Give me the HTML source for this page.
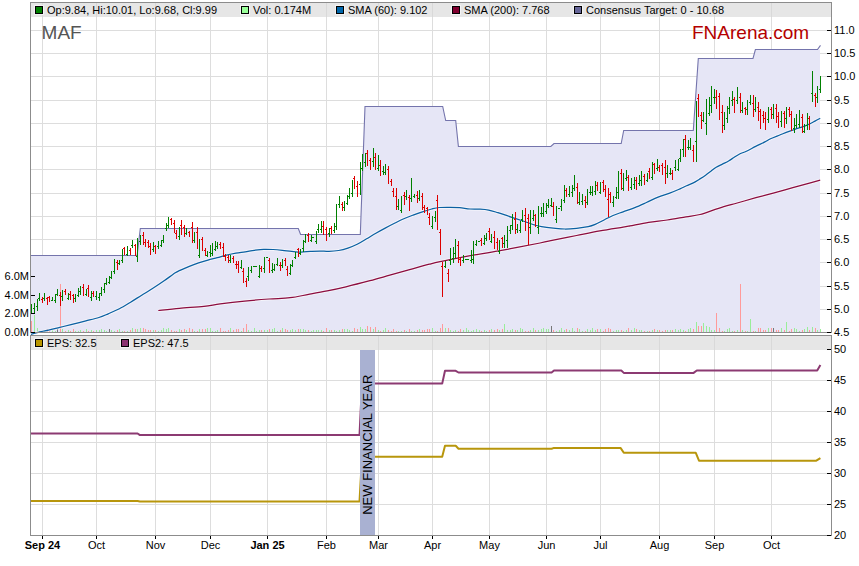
<!DOCTYPE html>
<html><head><meta charset="utf-8"><title>MAF</title><style>
html,body{margin:0;padding:0;background:#fff;overflow:hidden}
svg{display:block}
text{font-family:"Liberation Sans",Arial,sans-serif;font-size:11px;fill:#000}
</style></head><body>
<svg width="859" height="566" viewBox="0 0 859 566">
<rect x="0" y="0" width="859" height="566" fill="#fff"/>
<g fill="#dddddd" shape-rendering="crispEdges">
<rect x="42" y="3" width="1" height="329"/>
<rect x="96" y="3" width="1" height="329"/>
<rect x="155" y="3" width="1" height="329"/>
<rect x="210" y="3" width="1" height="329"/>
<rect x="267" y="3" width="1" height="329"/>
<rect x="326" y="3" width="1" height="329"/>
<rect x="378" y="3" width="1" height="329"/>
<rect x="432" y="3" width="1" height="329"/>
<rect x="489" y="3" width="1" height="329"/>
<rect x="546" y="3" width="1" height="329"/>
<rect x="600" y="3" width="1" height="329"/>
<rect x="659" y="3" width="1" height="329"/>
<rect x="714" y="3" width="1" height="329"/>
<rect x="771" y="3" width="1" height="329"/>
<rect x="31" y="309" width="800" height="1"/>
<rect x="31" y="286" width="800" height="1"/>
<rect x="31" y="262" width="800" height="1"/>
<rect x="31" y="239" width="800" height="1"/>
<rect x="31" y="216" width="800" height="1"/>
<rect x="31" y="193" width="800" height="1"/>
<rect x="31" y="169" width="800" height="1"/>
<rect x="31" y="146" width="800" height="1"/>
<rect x="31" y="123" width="800" height="1"/>
<rect x="31" y="100" width="800" height="1"/>
<rect x="31" y="76" width="800" height="1"/>
<rect x="31" y="53" width="800" height="1"/>
<rect x="31" y="30" width="800" height="1"/>
<rect x="42" y="336" width="1" height="199"/>
<rect x="96" y="336" width="1" height="199"/>
<rect x="155" y="336" width="1" height="199"/>
<rect x="210" y="336" width="1" height="199"/>
<rect x="267" y="336" width="1" height="199"/>
<rect x="326" y="336" width="1" height="199"/>
<rect x="378" y="336" width="1" height="199"/>
<rect x="432" y="336" width="1" height="199"/>
<rect x="489" y="336" width="1" height="199"/>
<rect x="546" y="336" width="1" height="199"/>
<rect x="600" y="336" width="1" height="199"/>
<rect x="659" y="336" width="1" height="199"/>
<rect x="714" y="336" width="1" height="199"/>
<rect x="771" y="336" width="1" height="199"/>
<rect x="31" y="504" width="800" height="1"/>
<rect x="31" y="473" width="800" height="1"/>
<rect x="31" y="442" width="800" height="1"/>
<rect x="31" y="411" width="800" height="1"/>
<rect x="31" y="380" width="800" height="1"/>
<rect x="31" y="349" width="800" height="1"/>
</g>
<polygon fill="#e6e6f6" points="31,255.5 137.1,255.5 140.3,228.5 298.3,228.5 300.6,234.5 360.3,234.5 365,106.5 442.7,106.5 445.7,120.5 455.7,120.5 458.4,146.5 550.8,146.5 554,143.5 621.2,143.5 623.7,130.5 693.3,130.5 698.3,58.5 753,58.5 755.4,49.5 817.5,49.5 820,49.5 820,332 31,332"/>
<polyline fill="none" stroke="#7474ac" stroke-width="1.1" stroke-linejoin="miter" points="31,255.5 137.1,255.5 140.3,228.5 298.3,228.5 300.6,234.5 360.3,234.5 365,106.5 442.7,106.5 445.7,120.5 455.7,120.5 458.4,146.5 550.8,146.5 554,143.5 621.2,143.5 623.7,130.5 693.3,130.5 698.3,58.5 753,58.5 755.4,49.5 817.5,49.5 820.5,45.4"/>
<g shape-rendering="crispEdges">
<rect x="31" y="321" width="1" height="11" fill="#ff9a9a"/>
<rect x="34" y="315" width="1" height="17" fill="#99ee99"/>
<rect x="37" y="328" width="1" height="4" fill="#99ee99"/>
<rect x="39" y="331" width="1" height="1" fill="#99ee99"/>
<rect x="42" y="331" width="1" height="1" fill="#ff9a9a"/>
<rect x="44" y="331" width="1" height="1" fill="#99ee99"/>
<rect x="47" y="329" width="1" height="3" fill="#ff9a9a"/>
<rect x="49" y="331" width="1" height="1" fill="#ff9a9a"/>
<rect x="52" y="330" width="1" height="2" fill="#99ee99"/>
<rect x="55" y="331" width="1" height="1" fill="#99ee99"/>
<rect x="57" y="329" width="1" height="3" fill="#777777"/>
<rect x="60" y="284" width="1" height="48" fill="#ff9a9a"/>
<rect x="62" y="329" width="1" height="3" fill="#99ee99"/>
<rect x="65" y="331" width="1" height="1" fill="#ff9a9a"/>
<rect x="68" y="330" width="1" height="2" fill="#99ee99"/>
<rect x="70" y="331" width="1" height="1" fill="#ff9a9a"/>
<rect x="73" y="329" width="1" height="3" fill="#ff9a9a"/>
<rect x="75" y="331" width="1" height="1" fill="#99ee99"/>
<rect x="78" y="331" width="1" height="1" fill="#99ee99"/>
<rect x="80" y="330" width="1" height="2" fill="#99ee99"/>
<rect x="83" y="331" width="1" height="1" fill="#ff9a9a"/>
<rect x="86" y="329" width="1" height="3" fill="#99ee99"/>
<rect x="88" y="331" width="1" height="1" fill="#ff9a9a"/>
<rect x="91" y="330" width="1" height="2" fill="#99ee99"/>
<rect x="93" y="331" width="1" height="1" fill="#ff9a9a"/>
<rect x="96" y="330" width="1" height="2" fill="#99ee99"/>
<rect x="99" y="330" width="1" height="2" fill="#99ee99"/>
<rect x="101" y="329" width="1" height="3" fill="#99ee99"/>
<rect x="104" y="330" width="1" height="2" fill="#99ee99"/>
<rect x="106" y="331" width="1" height="1" fill="#99ee99"/>
<rect x="109" y="329" width="1" height="3" fill="#777777"/>
<rect x="111" y="330" width="1" height="2" fill="#99ee99"/>
<rect x="114" y="331" width="1" height="1" fill="#99ee99"/>
<rect x="117" y="330" width="1" height="2" fill="#ff9a9a"/>
<rect x="119" y="329" width="1" height="3" fill="#99ee99"/>
<rect x="122" y="331" width="1" height="1" fill="#99ee99"/>
<rect x="124" y="331" width="1" height="1" fill="#ff9a9a"/>
<rect x="127" y="331" width="1" height="1" fill="#99ee99"/>
<rect x="130" y="330" width="1" height="2" fill="#ff9a9a"/>
<rect x="132" y="328" width="1" height="4" fill="#99ee99"/>
<rect x="135" y="329" width="1" height="3" fill="#ff9a9a"/>
<rect x="137" y="329" width="1" height="3" fill="#99ee99"/>
<rect x="140" y="328" width="1" height="4" fill="#99ee99"/>
<rect x="143" y="328" width="1" height="4" fill="#ff9a9a"/>
<rect x="145" y="329" width="1" height="3" fill="#ff9a9a"/>
<rect x="148" y="330" width="1" height="2" fill="#ff9a9a"/>
<rect x="150" y="330" width="1" height="2" fill="#ff9a9a"/>
<rect x="153" y="330" width="1" height="2" fill="#99ee99"/>
<rect x="155" y="330" width="1" height="2" fill="#ff9a9a"/>
<rect x="158" y="331" width="1" height="1" fill="#99ee99"/>
<rect x="161" y="330" width="1" height="2" fill="#99ee99"/>
<rect x="163" y="328" width="1" height="4" fill="#99ee99"/>
<rect x="166" y="329" width="1" height="3" fill="#99ee99"/>
<rect x="168" y="328" width="1" height="4" fill="#99ee99"/>
<rect x="171" y="330" width="1" height="2" fill="#ff9a9a"/>
<rect x="174" y="331" width="1" height="1" fill="#ff9a9a"/>
<rect x="176" y="331" width="1" height="1" fill="#ff9a9a"/>
<rect x="179" y="329" width="1" height="3" fill="#99ee99"/>
<rect x="181" y="330" width="1" height="2" fill="#ff9a9a"/>
<rect x="184" y="329" width="1" height="3" fill="#ff9a9a"/>
<rect x="186" y="330" width="1" height="2" fill="#99ee99"/>
<rect x="189" y="328" width="1" height="4" fill="#ff9a9a"/>
<rect x="192" y="329" width="1" height="3" fill="#ff9a9a"/>
<rect x="194" y="331" width="1" height="1" fill="#99ee99"/>
<rect x="197" y="331" width="1" height="1" fill="#ff9a9a"/>
<rect x="199" y="329" width="1" height="3" fill="#99ee99"/>
<rect x="202" y="329" width="1" height="3" fill="#ff9a9a"/>
<rect x="205" y="329" width="1" height="3" fill="#ff9a9a"/>
<rect x="207" y="328" width="1" height="4" fill="#99ee99"/>
<rect x="210" y="328" width="1" height="4" fill="#99ee99"/>
<rect x="212" y="331" width="1" height="1" fill="#99ee99"/>
<rect x="215" y="331" width="1" height="1" fill="#99ee99"/>
<rect x="217" y="330" width="1" height="2" fill="#99ee99"/>
<rect x="220" y="328" width="1" height="4" fill="#ff9a9a"/>
<rect x="223" y="331" width="1" height="1" fill="#ff9a9a"/>
<rect x="225" y="331" width="1" height="1" fill="#ff9a9a"/>
<rect x="228" y="330" width="1" height="2" fill="#ff9a9a"/>
<rect x="230" y="328" width="1" height="4" fill="#99ee99"/>
<rect x="233" y="330" width="1" height="2" fill="#ff9a9a"/>
<rect x="236" y="329" width="1" height="3" fill="#ff9a9a"/>
<rect x="238" y="329" width="1" height="3" fill="#ff9a9a"/>
<rect x="241" y="331" width="1" height="1" fill="#99ee99"/>
<rect x="243" y="328" width="1" height="4" fill="#ff9a9a"/>
<rect x="246" y="324" width="1" height="8" fill="#ff9a9a"/>
<rect x="248" y="330" width="1" height="2" fill="#99ee99"/>
<rect x="251" y="331" width="1" height="1" fill="#99ee99"/>
<rect x="254" y="328" width="1" height="4" fill="#99ee99"/>
<rect x="256" y="331" width="1" height="1" fill="#99ee99"/>
<rect x="259" y="330" width="1" height="2" fill="#99ee99"/>
<rect x="261" y="330" width="1" height="2" fill="#ff9a9a"/>
<rect x="264" y="330" width="1" height="2" fill="#99ee99"/>
<rect x="267" y="330" width="1" height="2" fill="#99ee99"/>
<rect x="269" y="329" width="1" height="3" fill="#ff9a9a"/>
<rect x="272" y="329" width="1" height="3" fill="#99ee99"/>
<rect x="274" y="328" width="1" height="4" fill="#99ee99"/>
<rect x="277" y="331" width="1" height="1" fill="#99ee99"/>
<rect x="280" y="330" width="1" height="2" fill="#ff9a9a"/>
<rect x="282" y="328" width="1" height="4" fill="#99ee99"/>
<rect x="285" y="329" width="1" height="3" fill="#ff9a9a"/>
<rect x="287" y="330" width="1" height="2" fill="#ff9a9a"/>
<rect x="290" y="330" width="1" height="2" fill="#99ee99"/>
<rect x="292" y="329" width="1" height="3" fill="#99ee99"/>
<rect x="295" y="330" width="1" height="2" fill="#99ee99"/>
<rect x="298" y="329" width="1" height="3" fill="#ff9a9a"/>
<rect x="300" y="329" width="1" height="3" fill="#99ee99"/>
<rect x="303" y="329" width="1" height="3" fill="#99ee99"/>
<rect x="305" y="330" width="1" height="2" fill="#99ee99"/>
<rect x="308" y="330" width="1" height="2" fill="#ff9a9a"/>
<rect x="311" y="331" width="1" height="1" fill="#99ee99"/>
<rect x="313" y="330" width="1" height="2" fill="#99ee99"/>
<rect x="316" y="330" width="1" height="2" fill="#99ee99"/>
<rect x="318" y="330" width="1" height="2" fill="#99ee99"/>
<rect x="321" y="330" width="1" height="2" fill="#99ee99"/>
<rect x="323" y="331" width="1" height="1" fill="#ff9a9a"/>
<rect x="326" y="328" width="1" height="4" fill="#ff9a9a"/>
<rect x="329" y="330" width="1" height="2" fill="#99ee99"/>
<rect x="331" y="330" width="1" height="2" fill="#ff9a9a"/>
<rect x="334" y="330" width="1" height="2" fill="#99ee99"/>
<rect x="336" y="331" width="1" height="1" fill="#99ee99"/>
<rect x="339" y="330" width="1" height="2" fill="#99ee99"/>
<rect x="342" y="329" width="1" height="3" fill="#ff9a9a"/>
<rect x="344" y="329" width="1" height="3" fill="#99ee99"/>
<rect x="347" y="329" width="1" height="3" fill="#99ee99"/>
<rect x="349" y="330" width="1" height="2" fill="#99ee99"/>
<rect x="352" y="331" width="1" height="1" fill="#99ee99"/>
<rect x="354" y="328" width="1" height="4" fill="#ff9a9a"/>
<rect x="357" y="329" width="1" height="3" fill="#ff9a9a"/>
<rect x="360" y="327" width="1" height="5" fill="#99ee99"/>
<rect x="362" y="329" width="1" height="3" fill="#99ee99"/>
<rect x="365" y="329" width="1" height="3" fill="#99ee99"/>
<rect x="367" y="326" width="1" height="6" fill="#ff9a9a"/>
<rect x="370" y="327" width="1" height="5" fill="#ff9a9a"/>
<rect x="373" y="329" width="1" height="3" fill="#99ee99"/>
<rect x="375" y="327" width="1" height="5" fill="#ff9a9a"/>
<rect x="378" y="330" width="1" height="2" fill="#99ee99"/>
<rect x="380" y="331" width="1" height="1" fill="#ff9a9a"/>
<rect x="383" y="330" width="1" height="2" fill="#99ee99"/>
<rect x="385" y="328" width="1" height="4" fill="#99ee99"/>
<rect x="388" y="330" width="1" height="2" fill="#ff9a9a"/>
<rect x="391" y="331" width="1" height="1" fill="#ff9a9a"/>
<rect x="393" y="329" width="1" height="3" fill="#ff9a9a"/>
<rect x="396" y="331" width="1" height="1" fill="#ff9a9a"/>
<rect x="398" y="331" width="1" height="1" fill="#99ee99"/>
<rect x="401" y="331" width="1" height="1" fill="#99ee99"/>
<rect x="404" y="330" width="1" height="2" fill="#ff9a9a"/>
<rect x="406" y="331" width="1" height="1" fill="#99ee99"/>
<rect x="409" y="329" width="1" height="3" fill="#ff9a9a"/>
<rect x="411" y="331" width="1" height="1" fill="#99ee99"/>
<rect x="414" y="331" width="1" height="1" fill="#99ee99"/>
<rect x="417" y="330" width="1" height="2" fill="#ff9a9a"/>
<rect x="419" y="329" width="1" height="3" fill="#99ee99"/>
<rect x="422" y="330" width="1" height="2" fill="#ff9a9a"/>
<rect x="424" y="330" width="1" height="2" fill="#ff9a9a"/>
<rect x="427" y="329" width="1" height="3" fill="#ff9a9a"/>
<rect x="429" y="329" width="1" height="3" fill="#ff9a9a"/>
<rect x="432" y="328" width="1" height="4" fill="#99ee99"/>
<rect x="435" y="331" width="1" height="1" fill="#99ee99"/>
<rect x="437" y="331" width="1" height="1" fill="#ff9a9a"/>
<rect x="440" y="328" width="1" height="4" fill="#ff9a9a"/>
<rect x="442" y="324" width="1" height="8" fill="#ff9a9a"/>
<rect x="445" y="328" width="1" height="4" fill="#99ee99"/>
<rect x="448" y="328" width="1" height="4" fill="#ff9a9a"/>
<rect x="450" y="330" width="1" height="2" fill="#99ee99"/>
<rect x="453" y="331" width="1" height="1" fill="#99ee99"/>
<rect x="455" y="330" width="1" height="2" fill="#99ee99"/>
<rect x="458" y="331" width="1" height="1" fill="#ff9a9a"/>
<rect x="460" y="329" width="1" height="3" fill="#ff9a9a"/>
<rect x="463" y="330" width="1" height="2" fill="#99ee99"/>
<rect x="466" y="328" width="1" height="4" fill="#99ee99"/>
<rect x="468" y="330" width="1" height="2" fill="#99ee99"/>
<rect x="471" y="331" width="1" height="1" fill="#99ee99"/>
<rect x="473" y="330" width="1" height="2" fill="#99ee99"/>
<rect x="476" y="329" width="1" height="3" fill="#99ee99"/>
<rect x="479" y="330" width="1" height="2" fill="#99ee99"/>
<rect x="481" y="331" width="1" height="1" fill="#ff9a9a"/>
<rect x="484" y="330" width="1" height="2" fill="#99ee99"/>
<rect x="486" y="331" width="1" height="1" fill="#99ee99"/>
<rect x="489" y="330" width="1" height="2" fill="#ff9a9a"/>
<rect x="491" y="329" width="1" height="3" fill="#99ee99"/>
<rect x="494" y="330" width="1" height="2" fill="#ff9a9a"/>
<rect x="497" y="329" width="1" height="3" fill="#ff9a9a"/>
<rect x="499" y="330" width="1" height="2" fill="#99ee99"/>
<rect x="502" y="329" width="1" height="3" fill="#ff9a9a"/>
<rect x="504" y="324" width="1" height="8" fill="#99ee99"/>
<rect x="507" y="330" width="1" height="2" fill="#99ee99"/>
<rect x="510" y="330" width="1" height="2" fill="#99ee99"/>
<rect x="512" y="329" width="1" height="3" fill="#99ee99"/>
<rect x="515" y="330" width="1" height="2" fill="#ff9a9a"/>
<rect x="517" y="330" width="1" height="2" fill="#99ee99"/>
<rect x="520" y="328" width="1" height="4" fill="#99ee99"/>
<rect x="522" y="329" width="1" height="3" fill="#99ee99"/>
<rect x="525" y="331" width="1" height="1" fill="#ff9a9a"/>
<rect x="528" y="331" width="1" height="1" fill="#ff9a9a"/>
<rect x="530" y="330" width="1" height="2" fill="#99ee99"/>
<rect x="533" y="328" width="1" height="4" fill="#99ee99"/>
<rect x="535" y="330" width="1" height="2" fill="#ff9a9a"/>
<rect x="538" y="330" width="1" height="2" fill="#99ee99"/>
<rect x="541" y="329" width="1" height="3" fill="#99ee99"/>
<rect x="543" y="328" width="1" height="4" fill="#99ee99"/>
<rect x="546" y="329" width="1" height="3" fill="#99ee99"/>
<rect x="548" y="329" width="1" height="3" fill="#99ee99"/>
<rect x="551" y="326" width="1" height="6" fill="#777777"/>
<rect x="553" y="330" width="1" height="2" fill="#ff9a9a"/>
<rect x="556" y="331" width="1" height="1" fill="#99ee99"/>
<rect x="559" y="330" width="1" height="2" fill="#99ee99"/>
<rect x="561" y="328" width="1" height="4" fill="#99ee99"/>
<rect x="564" y="330" width="1" height="2" fill="#99ee99"/>
<rect x="566" y="329" width="1" height="3" fill="#ff9a9a"/>
<rect x="569" y="330" width="1" height="2" fill="#99ee99"/>
<rect x="572" y="328" width="1" height="4" fill="#99ee99"/>
<rect x="574" y="331" width="1" height="1" fill="#99ee99"/>
<rect x="577" y="328" width="1" height="4" fill="#ff9a9a"/>
<rect x="579" y="329" width="1" height="3" fill="#99ee99"/>
<rect x="582" y="331" width="1" height="1" fill="#99ee99"/>
<rect x="585" y="331" width="1" height="1" fill="#ff9a9a"/>
<rect x="587" y="329" width="1" height="3" fill="#99ee99"/>
<rect x="590" y="330" width="1" height="2" fill="#99ee99"/>
<rect x="592" y="328" width="1" height="4" fill="#99ee99"/>
<rect x="595" y="330" width="1" height="2" fill="#99ee99"/>
<rect x="597" y="329" width="1" height="3" fill="#ff9a9a"/>
<rect x="600" y="329" width="1" height="3" fill="#99ee99"/>
<rect x="603" y="331" width="1" height="1" fill="#ff9a9a"/>
<rect x="605" y="329" width="1" height="3" fill="#ff9a9a"/>
<rect x="608" y="328" width="1" height="4" fill="#ff9a9a"/>
<rect x="610" y="329" width="1" height="3" fill="#ff9a9a"/>
<rect x="613" y="331" width="1" height="1" fill="#99ee99"/>
<rect x="616" y="330" width="1" height="2" fill="#99ee99"/>
<rect x="618" y="330" width="1" height="2" fill="#99ee99"/>
<rect x="621" y="330" width="1" height="2" fill="#ff9a9a"/>
<rect x="623" y="331" width="1" height="1" fill="#99ee99"/>
<rect x="626" y="330" width="1" height="2" fill="#99ee99"/>
<rect x="628" y="328" width="1" height="4" fill="#ff9a9a"/>
<rect x="631" y="330" width="1" height="2" fill="#99ee99"/>
<rect x="634" y="328" width="1" height="4" fill="#99ee99"/>
<rect x="636" y="329" width="1" height="3" fill="#ff9a9a"/>
<rect x="639" y="330" width="1" height="2" fill="#99ee99"/>
<rect x="641" y="330" width="1" height="2" fill="#99ee99"/>
<rect x="644" y="331" width="1" height="1" fill="#ff9a9a"/>
<rect x="647" y="331" width="1" height="1" fill="#99ee99"/>
<rect x="649" y="331" width="1" height="1" fill="#ff9a9a"/>
<rect x="652" y="330" width="1" height="2" fill="#99ee99"/>
<rect x="654" y="329" width="1" height="3" fill="#ff9a9a"/>
<rect x="657" y="330" width="1" height="2" fill="#99ee99"/>
<rect x="659" y="330" width="1" height="2" fill="#ff9a9a"/>
<rect x="662" y="331" width="1" height="1" fill="#ff9a9a"/>
<rect x="665" y="330" width="1" height="2" fill="#ff9a9a"/>
<rect x="667" y="330" width="1" height="2" fill="#99ee99"/>
<rect x="670" y="330" width="1" height="2" fill="#99ee99"/>
<rect x="672" y="330" width="1" height="2" fill="#ff9a9a"/>
<rect x="675" y="329" width="1" height="3" fill="#99ee99"/>
<rect x="678" y="330" width="1" height="2" fill="#99ee99"/>
<rect x="680" y="329" width="1" height="3" fill="#99ee99"/>
<rect x="683" y="330" width="1" height="2" fill="#99ee99"/>
<rect x="685" y="331" width="1" height="1" fill="#ff9a9a"/>
<rect x="688" y="329" width="1" height="3" fill="#99ee99"/>
<rect x="690" y="328" width="1" height="4" fill="#99ee99"/>
<rect x="693" y="329" width="1" height="3" fill="#ff9a9a"/>
<rect x="696" y="322" width="1" height="10" fill="#99ee99"/>
<rect x="698" y="326" width="1" height="6" fill="#ff9a9a"/>
<rect x="701" y="326" width="1" height="6" fill="#ff9a9a"/>
<rect x="703" y="323" width="1" height="9" fill="#99ee99"/>
<rect x="706" y="326" width="1" height="6" fill="#99ee99"/>
<rect x="709" y="327" width="1" height="5" fill="#99ee99"/>
<rect x="711" y="330" width="1" height="2" fill="#99ee99"/>
<rect x="714" y="330" width="1" height="2" fill="#99ee99"/>
<rect x="716" y="313" width="1" height="19" fill="#ff9a9a"/>
<rect x="719" y="328" width="1" height="4" fill="#ff9a9a"/>
<rect x="722" y="331" width="1" height="1" fill="#ff9a9a"/>
<rect x="724" y="331" width="1" height="1" fill="#99ee99"/>
<rect x="727" y="329" width="1" height="3" fill="#99ee99"/>
<rect x="729" y="328" width="1" height="4" fill="#99ee99"/>
<rect x="732" y="331" width="1" height="1" fill="#99ee99"/>
<rect x="734" y="331" width="1" height="1" fill="#ff9a9a"/>
<rect x="737" y="330" width="1" height="2" fill="#99ee99"/>
<rect x="740" y="284" width="1" height="48" fill="#ff9a9a"/>
<rect x="742" y="330" width="1" height="2" fill="#99ee99"/>
<rect x="745" y="331" width="1" height="1" fill="#ff9a9a"/>
<rect x="747" y="331" width="1" height="1" fill="#99ee99"/>
<rect x="750" y="319" width="1" height="13" fill="#99ee99"/>
<rect x="753" y="331" width="1" height="1" fill="#ff9a9a"/>
<rect x="755" y="331" width="1" height="1" fill="#99ee99"/>
<rect x="758" y="328" width="1" height="4" fill="#ff9a9a"/>
<rect x="760" y="328" width="1" height="4" fill="#ff9a9a"/>
<rect x="763" y="330" width="1" height="2" fill="#ff9a9a"/>
<rect x="765" y="330" width="1" height="2" fill="#ff9a9a"/>
<rect x="768" y="328" width="1" height="4" fill="#99ee99"/>
<rect x="771" y="328" width="1" height="4" fill="#ff9a9a"/>
<rect x="773" y="328" width="1" height="4" fill="#777777"/>
<rect x="776" y="330" width="1" height="2" fill="#ff9a9a"/>
<rect x="778" y="330" width="1" height="2" fill="#ff9a9a"/>
<rect x="781" y="328" width="1" height="4" fill="#99ee99"/>
<rect x="784" y="330" width="1" height="2" fill="#ff9a9a"/>
<rect x="786" y="322" width="1" height="10" fill="#99ee99"/>
<rect x="789" y="331" width="1" height="1" fill="#ff9a9a"/>
<rect x="791" y="329" width="1" height="3" fill="#ff9a9a"/>
<rect x="794" y="328" width="1" height="4" fill="#99ee99"/>
<rect x="796" y="329" width="1" height="3" fill="#99ee99"/>
<rect x="799" y="331" width="1" height="1" fill="#99ee99"/>
<rect x="802" y="330" width="1" height="2" fill="#ff9a9a"/>
<rect x="804" y="329" width="1" height="3" fill="#99ee99"/>
<rect x="807" y="327" width="1" height="5" fill="#99ee99"/>
<rect x="809" y="330" width="1" height="2" fill="#ff9a9a"/>
<rect x="812" y="327" width="1" height="5" fill="#99ee99"/>
<rect x="815" y="328" width="1" height="4" fill="#ff9a9a"/>
<rect x="817" y="330" width="1" height="2" fill="#99ee99"/>
<rect x="820" y="329" width="1" height="3" fill="#99ee99"/>
</g>
<path d="M30.9,334.3 C32.62,333.87 38.25,332.38 41.2,331.7 C44.15,331.02 45.50,330.92 48.6,330.2 C51.70,329.48 56.07,328.33 59.8,327.4 C63.53,326.47 66.65,325.68 71,324.6 C75.35,323.52 81.25,322.08 85.9,320.9 C90.55,319.72 95.18,318.68 98.9,317.5 C102.62,316.32 104.78,315.25 108.2,313.8 C111.62,312.35 115.67,310.73 119.4,308.8 C123.13,306.87 126.88,304.47 130.6,302.2 C134.32,299.93 137.98,297.52 141.7,295.2 C145.42,292.88 149.17,290.70 152.9,288.3 C156.63,285.90 160.37,283.38 164.1,280.8 C167.83,278.22 172.65,274.53 175.3,272.8 C177.95,271.07 177.67,271.48 180,270.4 C182.33,269.32 186.20,267.55 189.3,266.3 C192.40,265.05 195.50,263.93 198.6,262.9 C201.70,261.87 204.80,260.97 207.9,260.1 C211.00,259.23 214.08,258.53 217.2,257.7 C220.32,256.87 223.48,255.87 226.6,255.1 C229.72,254.33 232.80,253.65 235.9,253.1 C239.00,252.55 242.10,252.27 245.2,251.8 C248.30,251.33 251.40,250.72 254.5,250.3 C257.60,249.88 260.70,249.43 263.8,249.3 C266.90,249.17 270.00,249.33 273.1,249.5 C276.20,249.67 279.30,249.98 282.4,250.3 C285.50,250.62 288.60,251.10 291.7,251.4 C294.80,251.70 297.88,252.10 301,252.1 C304.12,252.10 307.28,251.58 310.4,251.4 C313.52,251.22 316.60,251.00 319.7,251 C322.80,251.00 325.85,251.48 329,251.4 C332.15,251.32 335.45,251.05 338.6,250.5 C341.75,249.95 344.80,249.13 347.9,248.1 C351.00,247.07 354.08,245.85 357.2,244.3 C360.32,242.75 363.48,240.65 366.6,238.8 C369.72,236.95 372.80,234.98 375.9,233.2 C379.00,231.42 382.10,229.75 385.2,228.1 C388.30,226.45 391.40,224.85 394.5,223.3 C397.60,221.75 400.70,220.17 403.8,218.8 C406.90,217.43 410.00,216.27 413.1,215.1 C416.20,213.93 419.30,212.82 422.4,211.8 C425.50,210.78 428.90,209.72 431.7,209 C434.50,208.28 436.08,207.78 439.2,207.5 C442.32,207.22 446.98,207.27 450.4,207.3 C453.82,207.33 456.43,207.42 459.7,207.7 C462.97,207.98 466.73,208.75 470,209 C473.27,209.25 476.20,209.02 479.3,209.2 C482.40,209.38 485.50,209.52 488.6,210.1 C491.70,210.68 494.80,211.77 497.9,212.7 C501.00,213.63 504.08,214.67 507.2,215.7 C510.32,216.73 513.48,217.85 516.6,218.9 C519.72,219.95 522.80,220.95 525.9,222 C529.00,223.05 532.58,224.42 535.2,225.2 C537.82,225.98 538.58,226.22 541.6,226.7 C544.62,227.18 549.42,227.72 553.3,228.1 C557.18,228.48 561.02,228.97 564.9,229 C568.78,229.03 572.72,228.68 576.6,228.3 C580.48,227.92 585.10,227.35 588.2,226.7 C591.30,226.05 592.48,225.57 595.2,224.4 C597.92,223.23 601.53,221.18 604.5,219.7 C607.47,218.22 609.90,216.82 613,215.5 C616.10,214.18 619.47,213.12 623.1,211.8 C626.73,210.48 630.92,209.15 634.8,207.6 C638.68,206.05 642.52,204.25 646.4,202.5 C650.28,200.75 654.22,198.65 658.1,197.1 C661.98,195.55 666.05,194.57 669.7,193.2 C673.35,191.83 677.18,190.13 680,188.9 C682.82,187.67 684.38,186.80 686.6,185.8 C688.82,184.80 691.17,184.00 693.3,182.9 C695.43,181.80 697.35,180.48 699.4,179.2 C701.45,177.92 703.68,176.53 705.6,175.2 C707.52,173.87 709.13,172.53 710.9,171.2 C712.67,169.87 714.28,168.38 716.2,167.2 C718.12,166.02 720.33,165.13 722.4,164.1 C724.47,163.07 726.68,162.10 728.6,161 C730.52,159.90 732.13,158.63 733.9,157.5 C735.67,156.37 737.12,155.25 739.2,154.2 C741.28,153.15 743.65,152.50 746.4,151.2 C749.15,149.90 752.62,147.95 755.7,146.4 C758.78,144.85 762.43,143.17 764.9,141.9 C767.37,140.63 768.02,139.95 770.5,138.8 C772.98,137.65 776.70,136.25 779.8,135 C782.90,133.75 786.02,132.43 789.1,131.3 C792.18,130.17 795.22,129.28 798.3,128.2 C801.38,127.12 804.82,125.98 807.6,124.8 C810.38,123.62 812.90,122.18 815,121.1 C817.10,120.02 819.33,118.77 820.2,118.3" fill="none" stroke="#ffffff" stroke-opacity="0.55" stroke-width="3.2"/>
<path d="M30.9,334.3 C32.62,333.87 38.25,332.38 41.2,331.7 C44.15,331.02 45.50,330.92 48.6,330.2 C51.70,329.48 56.07,328.33 59.8,327.4 C63.53,326.47 66.65,325.68 71,324.6 C75.35,323.52 81.25,322.08 85.9,320.9 C90.55,319.72 95.18,318.68 98.9,317.5 C102.62,316.32 104.78,315.25 108.2,313.8 C111.62,312.35 115.67,310.73 119.4,308.8 C123.13,306.87 126.88,304.47 130.6,302.2 C134.32,299.93 137.98,297.52 141.7,295.2 C145.42,292.88 149.17,290.70 152.9,288.3 C156.63,285.90 160.37,283.38 164.1,280.8 C167.83,278.22 172.65,274.53 175.3,272.8 C177.95,271.07 177.67,271.48 180,270.4 C182.33,269.32 186.20,267.55 189.3,266.3 C192.40,265.05 195.50,263.93 198.6,262.9 C201.70,261.87 204.80,260.97 207.9,260.1 C211.00,259.23 214.08,258.53 217.2,257.7 C220.32,256.87 223.48,255.87 226.6,255.1 C229.72,254.33 232.80,253.65 235.9,253.1 C239.00,252.55 242.10,252.27 245.2,251.8 C248.30,251.33 251.40,250.72 254.5,250.3 C257.60,249.88 260.70,249.43 263.8,249.3 C266.90,249.17 270.00,249.33 273.1,249.5 C276.20,249.67 279.30,249.98 282.4,250.3 C285.50,250.62 288.60,251.10 291.7,251.4 C294.80,251.70 297.88,252.10 301,252.1 C304.12,252.10 307.28,251.58 310.4,251.4 C313.52,251.22 316.60,251.00 319.7,251 C322.80,251.00 325.85,251.48 329,251.4 C332.15,251.32 335.45,251.05 338.6,250.5 C341.75,249.95 344.80,249.13 347.9,248.1 C351.00,247.07 354.08,245.85 357.2,244.3 C360.32,242.75 363.48,240.65 366.6,238.8 C369.72,236.95 372.80,234.98 375.9,233.2 C379.00,231.42 382.10,229.75 385.2,228.1 C388.30,226.45 391.40,224.85 394.5,223.3 C397.60,221.75 400.70,220.17 403.8,218.8 C406.90,217.43 410.00,216.27 413.1,215.1 C416.20,213.93 419.30,212.82 422.4,211.8 C425.50,210.78 428.90,209.72 431.7,209 C434.50,208.28 436.08,207.78 439.2,207.5 C442.32,207.22 446.98,207.27 450.4,207.3 C453.82,207.33 456.43,207.42 459.7,207.7 C462.97,207.98 466.73,208.75 470,209 C473.27,209.25 476.20,209.02 479.3,209.2 C482.40,209.38 485.50,209.52 488.6,210.1 C491.70,210.68 494.80,211.77 497.9,212.7 C501.00,213.63 504.08,214.67 507.2,215.7 C510.32,216.73 513.48,217.85 516.6,218.9 C519.72,219.95 522.80,220.95 525.9,222 C529.00,223.05 532.58,224.42 535.2,225.2 C537.82,225.98 538.58,226.22 541.6,226.7 C544.62,227.18 549.42,227.72 553.3,228.1 C557.18,228.48 561.02,228.97 564.9,229 C568.78,229.03 572.72,228.68 576.6,228.3 C580.48,227.92 585.10,227.35 588.2,226.7 C591.30,226.05 592.48,225.57 595.2,224.4 C597.92,223.23 601.53,221.18 604.5,219.7 C607.47,218.22 609.90,216.82 613,215.5 C616.10,214.18 619.47,213.12 623.1,211.8 C626.73,210.48 630.92,209.15 634.8,207.6 C638.68,206.05 642.52,204.25 646.4,202.5 C650.28,200.75 654.22,198.65 658.1,197.1 C661.98,195.55 666.05,194.57 669.7,193.2 C673.35,191.83 677.18,190.13 680,188.9 C682.82,187.67 684.38,186.80 686.6,185.8 C688.82,184.80 691.17,184.00 693.3,182.9 C695.43,181.80 697.35,180.48 699.4,179.2 C701.45,177.92 703.68,176.53 705.6,175.2 C707.52,173.87 709.13,172.53 710.9,171.2 C712.67,169.87 714.28,168.38 716.2,167.2 C718.12,166.02 720.33,165.13 722.4,164.1 C724.47,163.07 726.68,162.10 728.6,161 C730.52,159.90 732.13,158.63 733.9,157.5 C735.67,156.37 737.12,155.25 739.2,154.2 C741.28,153.15 743.65,152.50 746.4,151.2 C749.15,149.90 752.62,147.95 755.7,146.4 C758.78,144.85 762.43,143.17 764.9,141.9 C767.37,140.63 768.02,139.95 770.5,138.8 C772.98,137.65 776.70,136.25 779.8,135 C782.90,133.75 786.02,132.43 789.1,131.3 C792.18,130.17 795.22,129.28 798.3,128.2 C801.38,127.12 804.82,125.98 807.6,124.8 C810.38,123.62 812.90,122.18 815,121.1 C817.10,120.02 819.33,118.77 820.2,118.3" fill="none" stroke="#0b60a2" stroke-width="1.25"/>
<path d="M158.3,310.5 C161.82,310.13 171.80,309.00 179.4,308.3 C187.00,307.60 197.10,307.03 203.9,306.3 C210.70,305.57 213.42,304.77 220.2,303.9 C226.98,303.03 236.45,301.92 244.6,301.1 C252.75,300.28 261.53,299.57 269.1,299 C276.67,298.43 283.42,298.47 290,297.7 C296.58,296.93 302.40,295.53 308.6,294.4 C314.80,293.27 320.98,292.17 327.2,290.9 C333.42,289.63 338.77,288.50 345.9,286.8 C353.03,285.10 362.68,282.63 370,280.7 C377.32,278.77 383.20,277.03 389.8,275.2 C396.40,273.37 403.00,271.53 409.6,269.7 C416.20,267.87 424.12,265.58 429.4,264.2 C434.68,262.82 434.70,262.80 441.3,261.4 C447.90,260.00 459.43,257.55 469,255.8 C478.57,254.05 486.87,253.03 498.7,250.9 C510.53,248.77 530.90,244.78 540,243 C549.10,241.22 547.20,241.45 553.3,240.2 C559.40,238.95 568.85,237.05 576.6,235.5 C584.35,233.95 592.05,232.30 599.8,230.9 C607.55,229.50 618.07,227.93 623.1,227.1 C628.13,226.27 625.75,226.70 630,225.9 C634.25,225.10 642.40,223.28 648.6,222.3 C654.80,221.32 660.98,220.92 667.2,220 C673.42,219.08 680.43,217.72 685.9,216.8 C691.37,215.88 694.55,215.92 700,214.5 C705.45,213.08 712.40,210.22 718.6,208.3 C724.80,206.38 730.98,204.77 737.2,203 C743.42,201.23 749.73,199.40 755.9,197.7 C762.07,196.00 768.05,194.47 774.2,192.8 C780.35,191.13 786.62,189.40 792.8,187.7 C798.98,186.00 806.73,183.85 811.3,182.6 C815.87,181.35 818.72,180.60 820.2,180.2" fill="none" stroke="#ffffff" stroke-opacity="0.55" stroke-width="3.2"/>
<path d="M158.3,310.5 C161.82,310.13 171.80,309.00 179.4,308.3 C187.00,307.60 197.10,307.03 203.9,306.3 C210.70,305.57 213.42,304.77 220.2,303.9 C226.98,303.03 236.45,301.92 244.6,301.1 C252.75,300.28 261.53,299.57 269.1,299 C276.67,298.43 283.42,298.47 290,297.7 C296.58,296.93 302.40,295.53 308.6,294.4 C314.80,293.27 320.98,292.17 327.2,290.9 C333.42,289.63 338.77,288.50 345.9,286.8 C353.03,285.10 362.68,282.63 370,280.7 C377.32,278.77 383.20,277.03 389.8,275.2 C396.40,273.37 403.00,271.53 409.6,269.7 C416.20,267.87 424.12,265.58 429.4,264.2 C434.68,262.82 434.70,262.80 441.3,261.4 C447.90,260.00 459.43,257.55 469,255.8 C478.57,254.05 486.87,253.03 498.7,250.9 C510.53,248.77 530.90,244.78 540,243 C549.10,241.22 547.20,241.45 553.3,240.2 C559.40,238.95 568.85,237.05 576.6,235.5 C584.35,233.95 592.05,232.30 599.8,230.9 C607.55,229.50 618.07,227.93 623.1,227.1 C628.13,226.27 625.75,226.70 630,225.9 C634.25,225.10 642.40,223.28 648.6,222.3 C654.80,221.32 660.98,220.92 667.2,220 C673.42,219.08 680.43,217.72 685.9,216.8 C691.37,215.88 694.55,215.92 700,214.5 C705.45,213.08 712.40,210.22 718.6,208.3 C724.80,206.38 730.98,204.77 737.2,203 C743.42,201.23 749.73,199.40 755.9,197.7 C762.07,196.00 768.05,194.47 774.2,192.8 C780.35,191.13 786.62,189.40 792.8,187.7 C798.98,186.00 806.73,183.85 811.3,182.6 C815.87,181.35 818.72,180.60 820.2,180.2" fill="none" stroke="#8c0c3e" stroke-width="1.25"/>
<g shape-rendering="crispEdges">
<g fill="#008000"><rect x="31" y="304" width="1" height="10"/><rect x="30" y="312" width="1" height="1"/></g>
<g fill="#008000"><rect x="34" y="303" width="1" height="10"/><rect x="33" y="308" width="1" height="1"/></g>
<g fill="#008000"><rect x="37" y="299" width="1" height="12"/><rect x="36" y="306" width="1" height="1"/></g>
<g fill="#008000"><rect x="39" y="293" width="1" height="8"/><rect x="38" y="298" width="1" height="1"/></g>
<g fill="#dd0000"><rect x="42" y="297" width="1" height="6"/><rect x="41" y="299" width="1" height="1"/></g>
<g fill="#008000"><rect x="44" y="293" width="1" height="8"/><rect x="43" y="298" width="1" height="1"/></g>
<g fill="#dd0000"><rect x="47" y="297" width="1" height="8"/><rect x="46" y="298" width="1" height="1"/></g>
<g fill="#dd0000"><rect x="49" y="296" width="1" height="6"/><rect x="48" y="297" width="1" height="1"/></g>
<g fill="#008000"><rect x="52" y="297" width="1" height="4"/><rect x="51" y="300" width="1" height="1"/></g>
<g fill="#008000"><rect x="55" y="294" width="1" height="9"/><rect x="54" y="300" width="1" height="1"/></g>
<g fill="#008000"><rect x="57" y="289" width="1" height="7"/><rect x="56" y="294" width="1" height="1"/></g>
<g fill="#dd0000"><rect x="60" y="292" width="1" height="14"/><rect x="59" y="295" width="1" height="1"/></g>
<g fill="#008000"><rect x="62" y="290" width="1" height="11"/><rect x="61" y="296" width="1" height="1"/></g>
<g fill="#dd0000"><rect x="65" y="289" width="1" height="6"/><rect x="64" y="291" width="1" height="1"/></g>
<g fill="#008000"><rect x="68" y="293" width="1" height="7"/><rect x="67" y="298" width="1" height="1"/></g>
<g fill="#dd0000"><rect x="70" y="291" width="1" height="9"/><rect x="69" y="294" width="1" height="1"/></g>
<g fill="#dd0000"><rect x="73" y="294" width="1" height="9"/><rect x="72" y="295" width="1" height="1"/></g>
<g fill="#008000"><rect x="75" y="294" width="1" height="8"/><rect x="74" y="298" width="1" height="1"/></g>
<g fill="#008000"><rect x="78" y="288" width="1" height="9"/><rect x="77" y="295" width="1" height="1"/></g>
<g fill="#008000"><rect x="80" y="286" width="1" height="9"/><rect x="79" y="291" width="1" height="1"/></g>
<g fill="#dd0000"><rect x="83" y="284" width="1" height="12"/><rect x="82" y="287" width="1" height="1"/></g>
<g fill="#008000"><rect x="86" y="289" width="1" height="7"/><rect x="85" y="294" width="1" height="1"/></g>
<g fill="#dd0000"><rect x="88" y="285" width="1" height="12"/><rect x="87" y="288" width="1" height="1"/></g>
<g fill="#008000"><rect x="91" y="291" width="1" height="10"/><rect x="90" y="297" width="1" height="1"/></g>
<g fill="#dd0000"><rect x="93" y="291" width="1" height="6"/><rect x="92" y="293" width="1" height="1"/></g>
<g fill="#008000"><rect x="96" y="291" width="1" height="9"/><rect x="95" y="296" width="1" height="1"/></g>
<g fill="#008000"><rect x="99" y="293" width="1" height="8"/><rect x="98" y="297" width="1" height="1"/></g>
<g fill="#008000"><rect x="101" y="287" width="1" height="9"/><rect x="100" y="293" width="1" height="1"/></g>
<g fill="#008000"><rect x="104" y="283" width="1" height="10"/><rect x="103" y="289" width="1" height="1"/></g>
<g fill="#008000"><rect x="106" y="278" width="1" height="7"/><rect x="105" y="283" width="1" height="1"/></g>
<g fill="#008000"><rect x="109" y="276" width="1" height="8"/><rect x="108" y="282" width="1" height="1"/></g>
<g fill="#008000"><rect x="111" y="271" width="1" height="8"/><rect x="110" y="277" width="1" height="1"/></g>
<g fill="#008000"><rect x="114" y="259" width="1" height="15"/><rect x="113" y="271" width="1" height="1"/></g>
<g fill="#dd0000"><rect x="117" y="260" width="1" height="10"/><rect x="116" y="262" width="1" height="1"/></g>
<g fill="#008000"><rect x="119" y="260" width="1" height="5"/><rect x="118" y="263" width="1" height="1"/></g>
<g fill="#008000"><rect x="122" y="249" width="1" height="14"/><rect x="121" y="260" width="1" height="1"/></g>
<g fill="#dd0000"><rect x="124" y="247" width="1" height="8"/><rect x="123" y="248" width="1" height="1"/></g>
<g fill="#008000"><rect x="127" y="246" width="1" height="10"/><rect x="126" y="254" width="1" height="1"/></g>
<g fill="#dd0000"><rect x="130" y="248" width="1" height="7"/><rect x="129" y="250" width="1" height="1"/></g>
<g fill="#008000"><rect x="132" y="240" width="1" height="8"/><rect x="131" y="245" width="1" height="1"/></g>
<g fill="#dd0000"><rect x="135" y="244" width="1" height="12"/><rect x="134" y="245" width="1" height="1"/></g>
<g fill="#008000"><rect x="137" y="238" width="1" height="24"/><rect x="136" y="256" width="1" height="1"/></g>
<g fill="#008000"><rect x="140" y="235" width="1" height="10"/><rect x="139" y="241" width="1" height="1"/></g>
<g fill="#dd0000"><rect x="143" y="232" width="1" height="13"/><rect x="142" y="235" width="1" height="1"/></g>
<g fill="#dd0000"><rect x="145" y="239" width="1" height="8"/><rect x="144" y="242" width="1" height="1"/></g>
<g fill="#dd0000"><rect x="148" y="240" width="1" height="8"/><rect x="147" y="242" width="1" height="1"/></g>
<g fill="#dd0000"><rect x="150" y="243" width="1" height="12"/><rect x="149" y="246" width="1" height="1"/></g>
<g fill="#008000"><rect x="153" y="242" width="1" height="10"/><rect x="152" y="249" width="1" height="1"/></g>
<g fill="#dd0000"><rect x="155" y="245" width="1" height="9"/><rect x="154" y="246" width="1" height="1"/></g>
<g fill="#008000"><rect x="158" y="241" width="1" height="8"/><rect x="157" y="246" width="1" height="1"/></g>
<g fill="#008000"><rect x="161" y="240" width="1" height="7"/><rect x="160" y="245" width="1" height="1"/></g>
<g fill="#008000"><rect x="163" y="235" width="1" height="8"/><rect x="162" y="240" width="1" height="1"/></g>
<g fill="#008000"><rect x="166" y="223" width="1" height="8"/><rect x="165" y="228" width="1" height="1"/></g>
<g fill="#008000"><rect x="168" y="217" width="1" height="11"/><rect x="167" y="225" width="1" height="1"/></g>
<g fill="#dd0000"><rect x="171" y="218" width="1" height="7"/><rect x="170" y="219" width="1" height="1"/></g>
<g fill="#dd0000"><rect x="174" y="220" width="1" height="13"/><rect x="173" y="223" width="1" height="1"/></g>
<g fill="#dd0000"><rect x="176" y="230" width="1" height="9"/><rect x="175" y="233" width="1" height="1"/></g>
<g fill="#008000"><rect x="179" y="227" width="1" height="13"/><rect x="178" y="236" width="1" height="1"/></g>
<g fill="#dd0000"><rect x="181" y="220" width="1" height="15"/><rect x="180" y="225" width="1" height="1"/></g>
<g fill="#dd0000"><rect x="184" y="225" width="1" height="12"/><rect x="183" y="227" width="1" height="1"/></g>
<g fill="#008000"><rect x="186" y="228" width="1" height="7"/><rect x="185" y="233" width="1" height="1"/></g>
<g fill="#dd0000"><rect x="189" y="231" width="1" height="6"/><rect x="188" y="232" width="1" height="1"/></g>
<g fill="#dd0000"><rect x="192" y="222" width="1" height="21"/><rect x="191" y="227" width="1" height="1"/></g>
<g fill="#008000"><rect x="194" y="232" width="1" height="11"/><rect x="193" y="240" width="1" height="1"/></g>
<g fill="#dd0000"><rect x="197" y="227" width="1" height="22"/><rect x="196" y="232" width="1" height="1"/></g>
<g fill="#008000"><rect x="199" y="239" width="1" height="19"/><rect x="198" y="255" width="1" height="1"/></g>
<g fill="#dd0000"><rect x="202" y="237" width="1" height="14"/><rect x="201" y="239" width="1" height="1"/></g>
<g fill="#dd0000"><rect x="205" y="248" width="1" height="8"/><rect x="204" y="250" width="1" height="1"/></g>
<g fill="#008000"><rect x="207" y="251" width="1" height="6"/><rect x="206" y="255" width="1" height="1"/></g>
<g fill="#008000"><rect x="210" y="245" width="1" height="12"/><rect x="209" y="252" width="1" height="1"/></g>
<g fill="#008000"><rect x="212" y="243" width="1" height="13"/><rect x="211" y="253" width="1" height="1"/></g>
<g fill="#008000"><rect x="215" y="241" width="1" height="10"/><rect x="214" y="249" width="1" height="1"/></g>
<g fill="#008000"><rect x="217" y="242" width="1" height="7"/><rect x="216" y="246" width="1" height="1"/></g>
<g fill="#dd0000"><rect x="220" y="242" width="1" height="7"/><rect x="219" y="244" width="1" height="1"/></g>
<g fill="#dd0000"><rect x="223" y="243" width="1" height="14"/><rect x="222" y="247" width="1" height="1"/></g>
<g fill="#dd0000"><rect x="225" y="254" width="1" height="7"/><rect x="224" y="256" width="1" height="1"/></g>
<g fill="#dd0000"><rect x="228" y="255" width="1" height="8"/><rect x="227" y="257" width="1" height="1"/></g>
<g fill="#008000"><rect x="230" y="255" width="1" height="8"/><rect x="229" y="260" width="1" height="1"/></g>
<g fill="#dd0000"><rect x="233" y="256" width="1" height="7"/><rect x="232" y="258" width="1" height="1"/></g>
<g fill="#dd0000"><rect x="236" y="261" width="1" height="8"/><rect x="235" y="264" width="1" height="1"/></g>
<g fill="#dd0000"><rect x="238" y="261" width="1" height="12"/><rect x="237" y="264" width="1" height="1"/></g>
<g fill="#008000"><rect x="241" y="260" width="1" height="9"/><rect x="240" y="267" width="1" height="1"/></g>
<g fill="#dd0000"><rect x="243" y="268" width="1" height="15"/><rect x="242" y="271" width="1" height="1"/></g>
<g fill="#dd0000"><rect x="246" y="278" width="1" height="9"/><rect x="245" y="281" width="1" height="1"/></g>
<g fill="#008000"><rect x="248" y="267" width="1" height="14"/><rect x="247" y="276" width="1" height="1"/></g>
<g fill="#008000"><rect x="251" y="266" width="1" height="7"/><rect x="250" y="270" width="1" height="1"/></g>
<rect x="253" y="266" width="2" height="1" fill="#008000"/>
<rect x="255" y="266" width="2" height="1" fill="#008000"/>
<g fill="#008000"><rect x="259" y="265" width="1" height="13"/><rect x="258" y="276" width="1" height="1"/></g>
<g fill="#dd0000"><rect x="261" y="266" width="1" height="6"/><rect x="260" y="268" width="1" height="1"/></g>
<g fill="#008000"><rect x="264" y="257" width="1" height="16"/><rect x="263" y="268" width="1" height="1"/></g>
<rect x="266" y="257" width="2" height="1" fill="#008000"/>
<g fill="#dd0000"><rect x="269" y="258" width="1" height="15"/><rect x="268" y="260" width="1" height="1"/></g>
<g fill="#008000"><rect x="272" y="263" width="1" height="10"/><rect x="271" y="270" width="1" height="1"/></g>
<g fill="#008000"><rect x="274" y="264" width="1" height="7"/><rect x="273" y="269" width="1" height="1"/></g>
<g fill="#008000"><rect x="277" y="258" width="1" height="8"/><rect x="276" y="264" width="1" height="1"/></g>
<g fill="#dd0000"><rect x="280" y="262" width="1" height="9"/><rect x="279" y="265" width="1" height="1"/></g>
<g fill="#008000"><rect x="282" y="259" width="1" height="9"/><rect x="281" y="265" width="1" height="1"/></g>
<g fill="#dd0000"><rect x="285" y="258" width="1" height="8"/><rect x="284" y="260" width="1" height="1"/></g>
<g fill="#dd0000"><rect x="287" y="266" width="1" height="10"/><rect x="286" y="269" width="1" height="1"/></g>
<g fill="#008000"><rect x="290" y="264" width="1" height="11"/><rect x="289" y="273" width="1" height="1"/></g>
<g fill="#008000"><rect x="292" y="260" width="1" height="7"/><rect x="291" y="265" width="1" height="1"/></g>
<g fill="#008000"><rect x="295" y="252" width="1" height="7"/><rect x="294" y="257" width="1" height="1"/></g>
<g fill="#dd0000"><rect x="298" y="248" width="1" height="9"/><rect x="297" y="249" width="1" height="1"/></g>
<g fill="#008000"><rect x="300" y="249" width="1" height="6"/><rect x="299" y="253" width="1" height="1"/></g>
<g fill="#008000"><rect x="303" y="240" width="1" height="12"/><rect x="302" y="248" width="1" height="1"/></g>
<g fill="#008000"><rect x="305" y="234" width="1" height="9"/><rect x="304" y="241" width="1" height="1"/></g>
<g fill="#dd0000"><rect x="308" y="233" width="1" height="9"/><rect x="307" y="235" width="1" height="1"/></g>
<g fill="#008000"><rect x="311" y="235" width="1" height="7"/><rect x="310" y="240" width="1" height="1"/></g>
<rect x="312" y="237" width="2" height="1" fill="#008000"/>
<g fill="#008000"><rect x="316" y="231" width="1" height="13"/><rect x="315" y="241" width="1" height="1"/></g>
<g fill="#008000"><rect x="318" y="224" width="1" height="9"/><rect x="317" y="229" width="1" height="1"/></g>
<g fill="#008000"><rect x="321" y="221" width="1" height="12"/><rect x="320" y="229" width="1" height="1"/></g>
<g fill="#dd0000"><rect x="323" y="221" width="1" height="14"/><rect x="322" y="226" width="1" height="1"/></g>
<g fill="#dd0000"><rect x="326" y="227" width="1" height="14"/><rect x="325" y="229" width="1" height="1"/></g>
<g fill="#008000"><rect x="329" y="228" width="1" height="9"/><rect x="328" y="233" width="1" height="1"/></g>
<g fill="#dd0000"><rect x="331" y="226" width="1" height="8"/><rect x="330" y="228" width="1" height="1"/></g>
<g fill="#008000"><rect x="334" y="223" width="1" height="10"/><rect x="333" y="230" width="1" height="1"/></g>
<g fill="#008000"><rect x="336" y="204" width="1" height="26"/><rect x="335" y="226" width="1" height="1"/></g>
<g fill="#008000"><rect x="339" y="196" width="1" height="12"/><rect x="338" y="204" width="1" height="1"/></g>
<g fill="#dd0000"><rect x="342" y="202" width="1" height="9"/><rect x="341" y="204" width="1" height="1"/></g>
<g fill="#008000"><rect x="344" y="201" width="1" height="10"/><rect x="343" y="207" width="1" height="1"/></g>
<g fill="#008000"><rect x="347" y="195" width="1" height="10"/><rect x="346" y="203" width="1" height="1"/></g>
<g fill="#008000"><rect x="349" y="188" width="1" height="11"/><rect x="348" y="196" width="1" height="1"/></g>
<g fill="#008000"><rect x="352" y="180" width="1" height="17"/><rect x="351" y="193" width="1" height="1"/></g>
<g fill="#dd0000"><rect x="354" y="176" width="1" height="13"/><rect x="353" y="178" width="1" height="1"/></g>
<g fill="#dd0000"><rect x="357" y="181" width="1" height="16"/><rect x="356" y="186" width="1" height="1"/></g>
<g fill="#008000"><rect x="360" y="162" width="1" height="33"/><rect x="359" y="184" width="1" height="1"/></g>
<g fill="#008000"><rect x="362" y="154" width="1" height="17"/><rect x="361" y="168" width="1" height="1"/></g>
<g fill="#008000"><rect x="365" y="153" width="1" height="14"/><rect x="364" y="162" width="1" height="1"/></g>
<g fill="#dd0000"><rect x="367" y="150" width="1" height="16"/><rect x="366" y="153" width="1" height="1"/></g>
<g fill="#dd0000"><rect x="370" y="158" width="1" height="12"/><rect x="369" y="160" width="1" height="1"/></g>
<g fill="#008000"><rect x="373" y="148" width="1" height="19"/><rect x="372" y="161" width="1" height="1"/></g>
<g fill="#dd0000"><rect x="375" y="153" width="1" height="17"/><rect x="374" y="157" width="1" height="1"/></g>
<g fill="#008000"><rect x="378" y="155" width="1" height="16"/><rect x="377" y="168" width="1" height="1"/></g>
<g fill="#dd0000"><rect x="380" y="160" width="1" height="16"/><rect x="379" y="165" width="1" height="1"/></g>
<g fill="#008000"><rect x="383" y="166" width="1" height="9"/><rect x="382" y="171" width="1" height="1"/></g>
<g fill="#008000"><rect x="385" y="164" width="1" height="11"/><rect x="384" y="172" width="1" height="1"/></g>
<g fill="#dd0000"><rect x="388" y="166" width="1" height="18"/><rect x="387" y="169" width="1" height="1"/></g>
<g fill="#dd0000"><rect x="391" y="179" width="1" height="7"/><rect x="390" y="181" width="1" height="1"/></g>
<g fill="#dd0000"><rect x="393" y="188" width="1" height="9"/><rect x="392" y="191" width="1" height="1"/></g>
<g fill="#dd0000"><rect x="396" y="188" width="1" height="22"/><rect x="395" y="196" width="1" height="1"/></g>
<g fill="#008000"><rect x="398" y="199" width="1" height="11"/><rect x="397" y="206" width="1" height="1"/></g>
<g fill="#008000"><rect x="401" y="196" width="1" height="17"/><rect x="400" y="210" width="1" height="1"/></g>
<g fill="#dd0000"><rect x="404" y="192" width="1" height="13"/><rect x="403" y="195" width="1" height="1"/></g>
<g fill="#008000"><rect x="406" y="190" width="1" height="10"/><rect x="405" y="196" width="1" height="1"/></g>
<g fill="#dd0000"><rect x="409" y="195" width="1" height="16"/><rect x="408" y="197" width="1" height="1"/></g>
<g fill="#008000"><rect x="411" y="178" width="1" height="24"/><rect x="410" y="198" width="1" height="1"/></g>
<g fill="#008000"><rect x="414" y="194" width="1" height="4"/><rect x="413" y="196" width="1" height="1"/></g>
<g fill="#dd0000"><rect x="417" y="191" width="1" height="12"/><rect x="416" y="195" width="1" height="1"/></g>
<g fill="#008000"><rect x="419" y="190" width="1" height="11"/><rect x="418" y="198" width="1" height="1"/></g>
<g fill="#dd0000"><rect x="422" y="193" width="1" height="17"/><rect x="421" y="196" width="1" height="1"/></g>
<g fill="#dd0000"><rect x="424" y="205" width="1" height="8"/><rect x="423" y="207" width="1" height="1"/></g>
<g fill="#dd0000"><rect x="427" y="207" width="1" height="8"/><rect x="426" y="208" width="1" height="1"/></g>
<g fill="#dd0000"><rect x="429" y="213" width="1" height="12"/><rect x="428" y="217" width="1" height="1"/></g>
<g fill="#008000"><rect x="432" y="216" width="1" height="13"/><rect x="431" y="226" width="1" height="1"/></g>
<g fill="#008000"><rect x="435" y="211" width="1" height="11"/><rect x="434" y="217" width="1" height="1"/></g>
<g fill="#dd0000"><rect x="437" y="195" width="1" height="35"/><rect x="436" y="200" width="1" height="1"/></g>
<g fill="#dd0000"><rect x="440" y="229" width="1" height="26"/><rect x="439" y="232" width="1" height="1"/></g>
<g fill="#dd0000"><rect x="442" y="262" width="1" height="35"/><rect x="441" y="266" width="1" height="1"/></g>
<g fill="#008000"><rect x="445" y="261" width="1" height="7"/><rect x="444" y="266" width="1" height="1"/></g>
<g fill="#dd0000"><rect x="448" y="269" width="1" height="13"/><rect x="447" y="273" width="1" height="1"/></g>
<g fill="#008000"><rect x="450" y="248" width="1" height="17"/><rect x="449" y="260" width="1" height="1"/></g>
<g fill="#008000"><rect x="453" y="247" width="1" height="16"/><rect x="452" y="258" width="1" height="1"/></g>
<g fill="#008000"><rect x="455" y="239" width="1" height="19"/><rect x="454" y="253" width="1" height="1"/></g>
<g fill="#dd0000"><rect x="458" y="241" width="1" height="22"/><rect x="457" y="245" width="1" height="1"/></g>
<g fill="#dd0000"><rect x="460" y="258" width="1" height="8"/><rect x="459" y="259" width="1" height="1"/></g>
<g fill="#008000"><rect x="463" y="255" width="1" height="8"/><rect x="462" y="260" width="1" height="1"/></g>
<rect x="465" y="259" width="2" height="1" fill="#008000"/>
<rect x="467" y="259" width="2" height="1" fill="#008000"/>
<g fill="#008000"><rect x="471" y="250" width="1" height="13"/><rect x="470" y="260" width="1" height="1"/></g>
<g fill="#008000"><rect x="473" y="241" width="1" height="23"/><rect x="472" y="259" width="1" height="1"/></g>
<g fill="#008000"><rect x="476" y="240" width="1" height="6"/><rect x="475" y="244" width="1" height="1"/></g>
<rect x="478" y="241" width="2" height="1" fill="#008000"/>
<g fill="#dd0000"><rect x="481" y="238" width="1" height="8"/><rect x="480" y="240" width="1" height="1"/></g>
<g fill="#008000"><rect x="484" y="235" width="1" height="10"/><rect x="483" y="243" width="1" height="1"/></g>
<g fill="#008000"><rect x="486" y="233" width="1" height="8"/><rect x="485" y="238" width="1" height="1"/></g>
<g fill="#dd0000"><rect x="489" y="228" width="1" height="12"/><rect x="488" y="231" width="1" height="1"/></g>
<g fill="#008000"><rect x="491" y="234" width="1" height="9"/><rect x="490" y="241" width="1" height="1"/></g>
<g fill="#dd0000"><rect x="494" y="231" width="1" height="18"/><rect x="493" y="237" width="1" height="1"/></g>
<g fill="#dd0000"><rect x="497" y="238" width="1" height="12"/><rect x="496" y="242" width="1" height="1"/></g>
<g fill="#008000"><rect x="499" y="240" width="1" height="14"/><rect x="498" y="251" width="1" height="1"/></g>
<g fill="#dd0000"><rect x="502" y="237" width="1" height="11"/><rect x="501" y="238" width="1" height="1"/></g>
<g fill="#008000"><rect x="504" y="235" width="1" height="13"/><rect x="503" y="243" width="1" height="1"/></g>
<g fill="#008000"><rect x="507" y="226" width="1" height="22"/><rect x="506" y="240" width="1" height="1"/></g>
<g fill="#008000"><rect x="510" y="225" width="1" height="9"/><rect x="509" y="230" width="1" height="1"/></g>
<g fill="#008000"><rect x="512" y="214" width="1" height="16"/><rect x="511" y="225" width="1" height="1"/></g>
<g fill="#dd0000"><rect x="515" y="212" width="1" height="22"/><rect x="514" y="219" width="1" height="1"/></g>
<g fill="#008000"><rect x="517" y="224" width="1" height="9"/><rect x="516" y="229" width="1" height="1"/></g>
<g fill="#008000"><rect x="520" y="221" width="1" height="12"/><rect x="519" y="230" width="1" height="1"/></g>
<g fill="#008000"><rect x="522" y="210" width="1" height="12"/><rect x="521" y="219" width="1" height="1"/></g>
<g fill="#dd0000"><rect x="525" y="208" width="1" height="23"/><rect x="524" y="215" width="1" height="1"/></g>
<g fill="#dd0000"><rect x="528" y="214" width="1" height="31"/><rect x="527" y="218" width="1" height="1"/></g>
<g fill="#008000"><rect x="530" y="210" width="1" height="24"/><rect x="529" y="227" width="1" height="1"/></g>
<g fill="#008000"><rect x="533" y="210" width="1" height="11"/><rect x="532" y="218" width="1" height="1"/></g>
<g fill="#dd0000"><rect x="535" y="214" width="1" height="13"/><rect x="534" y="215" width="1" height="1"/></g>
<g fill="#008000"><rect x="538" y="206" width="1" height="28"/><rect x="537" y="227" width="1" height="1"/></g>
<g fill="#008000"><rect x="541" y="207" width="1" height="10"/><rect x="540" y="213" width="1" height="1"/></g>
<g fill="#008000"><rect x="543" y="203" width="1" height="14"/><rect x="542" y="213" width="1" height="1"/></g>
<g fill="#008000"><rect x="546" y="203" width="1" height="11"/><rect x="545" y="211" width="1" height="1"/></g>
<g fill="#008000"><rect x="548" y="199" width="1" height="9"/><rect x="547" y="205" width="1" height="1"/></g>
<g fill="#008000"><rect x="551" y="198" width="1" height="9"/><rect x="550" y="205" width="1" height="1"/></g>
<g fill="#dd0000"><rect x="553" y="202" width="1" height="14"/><rect x="552" y="206" width="1" height="1"/></g>
<g fill="#008000"><rect x="556" y="206" width="1" height="17"/><rect x="555" y="219" width="1" height="1"/></g>
<rect x="558" y="208" width="2" height="1" fill="#008000"/>
<g fill="#008000"><rect x="561" y="199" width="1" height="12"/><rect x="560" y="206" width="1" height="1"/></g>
<g fill="#008000"><rect x="564" y="185" width="1" height="18"/><rect x="563" y="200" width="1" height="1"/></g>
<g fill="#dd0000"><rect x="566" y="188" width="1" height="9"/><rect x="565" y="190" width="1" height="1"/></g>
<g fill="#008000"><rect x="569" y="186" width="1" height="11"/><rect x="568" y="194" width="1" height="1"/></g>
<g fill="#008000"><rect x="572" y="185" width="1" height="12"/><rect x="571" y="192" width="1" height="1"/></g>
<g fill="#008000"><rect x="574" y="175" width="1" height="16"/><rect x="573" y="188" width="1" height="1"/></g>
<g fill="#dd0000"><rect x="577" y="183" width="1" height="21"/><rect x="576" y="187" width="1" height="1"/></g>
<g fill="#008000"><rect x="579" y="192" width="1" height="13"/><rect x="578" y="202" width="1" height="1"/></g>
<g fill="#008000"><rect x="582" y="194" width="1" height="11"/><rect x="581" y="201" width="1" height="1"/></g>
<g fill="#dd0000"><rect x="585" y="196" width="1" height="12"/><rect x="584" y="200" width="1" height="1"/></g>
<g fill="#008000"><rect x="587" y="189" width="1" height="16"/><rect x="586" y="202" width="1" height="1"/></g>
<g fill="#008000"><rect x="590" y="186" width="1" height="9"/><rect x="589" y="192" width="1" height="1"/></g>
<g fill="#008000"><rect x="592" y="186" width="1" height="10"/><rect x="591" y="192" width="1" height="1"/></g>
<g fill="#008000"><rect x="595" y="181" width="1" height="14"/><rect x="594" y="191" width="1" height="1"/></g>
<g fill="#dd0000"><rect x="597" y="182" width="1" height="9"/><rect x="596" y="185" width="1" height="1"/></g>
<g fill="#008000"><rect x="600" y="182" width="1" height="12"/><rect x="599" y="192" width="1" height="1"/></g>
<g fill="#dd0000"><rect x="603" y="180" width="1" height="12"/><rect x="602" y="182" width="1" height="1"/></g>
<g fill="#dd0000"><rect x="605" y="185" width="1" height="12"/><rect x="604" y="189" width="1" height="1"/></g>
<g fill="#dd0000"><rect x="608" y="188" width="1" height="29"/><rect x="607" y="199" width="1" height="1"/></g>
<g fill="#dd0000"><rect x="610" y="192" width="1" height="11"/><rect x="609" y="194" width="1" height="1"/></g>
<g fill="#008000"><rect x="613" y="196" width="1" height="11"/><rect x="612" y="202" width="1" height="1"/></g>
<g fill="#008000"><rect x="616" y="187" width="1" height="12"/><rect x="615" y="197" width="1" height="1"/></g>
<g fill="#008000"><rect x="618" y="171" width="1" height="28"/><rect x="617" y="192" width="1" height="1"/></g>
<g fill="#dd0000"><rect x="621" y="169" width="1" height="21"/><rect x="620" y="173" width="1" height="1"/></g>
<g fill="#008000"><rect x="623" y="173" width="1" height="18"/><rect x="622" y="188" width="1" height="1"/></g>
<g fill="#008000"><rect x="626" y="170" width="1" height="11"/><rect x="625" y="178" width="1" height="1"/></g>
<g fill="#dd0000"><rect x="628" y="175" width="1" height="16"/><rect x="627" y="177" width="1" height="1"/></g>
<g fill="#008000"><rect x="631" y="178" width="1" height="12"/><rect x="630" y="187" width="1" height="1"/></g>
<g fill="#008000"><rect x="634" y="177" width="1" height="12"/><rect x="633" y="184" width="1" height="1"/></g>
<g fill="#dd0000"><rect x="636" y="177" width="1" height="13"/><rect x="635" y="180" width="1" height="1"/></g>
<g fill="#008000"><rect x="639" y="175" width="1" height="11"/><rect x="638" y="183" width="1" height="1"/></g>
<g fill="#008000"><rect x="641" y="171" width="1" height="15"/><rect x="640" y="180" width="1" height="1"/></g>
<g fill="#dd0000"><rect x="644" y="174" width="1" height="11"/><rect x="643" y="176" width="1" height="1"/></g>
<g fill="#008000"><rect x="647" y="173" width="1" height="9"/><rect x="646" y="180" width="1" height="1"/></g>
<g fill="#dd0000"><rect x="649" y="168" width="1" height="11"/><rect x="648" y="171" width="1" height="1"/></g>
<g fill="#008000"><rect x="652" y="162" width="1" height="18"/><rect x="651" y="177" width="1" height="1"/></g>
<g fill="#dd0000"><rect x="654" y="163" width="1" height="11"/><rect x="653" y="164" width="1" height="1"/></g>
<g fill="#008000"><rect x="657" y="159" width="1" height="12"/><rect x="656" y="168" width="1" height="1"/></g>
<g fill="#dd0000"><rect x="659" y="165" width="1" height="7"/><rect x="658" y="167" width="1" height="1"/></g>
<g fill="#dd0000"><rect x="662" y="163" width="1" height="12"/><rect x="661" y="165" width="1" height="1"/></g>
<g fill="#dd0000"><rect x="665" y="160" width="1" height="24"/><rect x="664" y="167" width="1" height="1"/></g>
<g fill="#008000"><rect x="667" y="165" width="1" height="13"/><rect x="666" y="173" width="1" height="1"/></g>
<g fill="#008000"><rect x="670" y="168" width="1" height="7"/><rect x="669" y="173" width="1" height="1"/></g>
<g fill="#dd0000"><rect x="672" y="170" width="1" height="10"/><rect x="671" y="173" width="1" height="1"/></g>
<g fill="#008000"><rect x="675" y="160" width="1" height="11"/><rect x="674" y="167" width="1" height="1"/></g>
<g fill="#008000"><rect x="678" y="159" width="1" height="12"/><rect x="677" y="169" width="1" height="1"/></g>
<g fill="#008000"><rect x="680" y="149" width="1" height="13"/><rect x="679" y="158" width="1" height="1"/></g>
<g fill="#008000"><rect x="683" y="139" width="1" height="18"/><rect x="682" y="149" width="1" height="1"/></g>
<g fill="#dd0000"><rect x="685" y="135" width="1" height="22"/><rect x="684" y="139" width="1" height="1"/></g>
<g fill="#008000"><rect x="688" y="140" width="1" height="10"/><rect x="687" y="147" width="1" height="1"/></g>
<g fill="#008000"><rect x="690" y="138" width="1" height="12"/><rect x="689" y="147" width="1" height="1"/></g>
<g fill="#dd0000"><rect x="693" y="145" width="1" height="17"/><rect x="692" y="150" width="1" height="1"/></g>
<g fill="#008000"><rect x="696" y="101" width="1" height="61"/><rect x="695" y="141" width="1" height="1"/></g>
<g fill="#dd0000"><rect x="698" y="94" width="1" height="23"/><rect x="697" y="98" width="1" height="1"/></g>
<g fill="#dd0000"><rect x="701" y="112" width="1" height="17"/><rect x="700" y="115" width="1" height="1"/></g>
<g fill="#008000"><rect x="703" y="112" width="1" height="10"/><rect x="702" y="120" width="1" height="1"/></g>
<g fill="#008000"><rect x="706" y="99" width="1" height="36"/><rect x="705" y="123" width="1" height="1"/></g>
<g fill="#008000"><rect x="709" y="97" width="1" height="19"/><rect x="708" y="113" width="1" height="1"/></g>
<g fill="#008000"><rect x="711" y="86" width="1" height="27"/><rect x="710" y="105" width="1" height="1"/></g>
<g fill="#008000"><rect x="714" y="89" width="1" height="15"/><rect x="713" y="97" width="1" height="1"/></g>
<g fill="#dd0000"><rect x="716" y="90" width="1" height="19"/><rect x="715" y="97" width="1" height="1"/></g>
<g fill="#dd0000"><rect x="719" y="93" width="1" height="27"/><rect x="718" y="96" width="1" height="1"/></g>
<g fill="#dd0000"><rect x="722" y="105" width="1" height="28"/><rect x="721" y="112" width="1" height="1"/></g>
<g fill="#008000"><rect x="724" y="112" width="1" height="18"/><rect x="723" y="125" width="1" height="1"/></g>
<g fill="#008000"><rect x="727" y="106" width="1" height="17"/><rect x="726" y="118" width="1" height="1"/></g>
<g fill="#008000"><rect x="729" y="97" width="1" height="17"/><rect x="728" y="108" width="1" height="1"/></g>
<g fill="#008000"><rect x="732" y="91" width="1" height="15"/><rect x="731" y="100" width="1" height="1"/></g>
<g fill="#dd0000"><rect x="734" y="97" width="1" height="16"/><rect x="733" y="99" width="1" height="1"/></g>
<g fill="#008000"><rect x="737" y="87" width="1" height="17"/><rect x="736" y="100" width="1" height="1"/></g>
<g fill="#dd0000"><rect x="740" y="93" width="1" height="20"/><rect x="739" y="97" width="1" height="1"/></g>
<g fill="#008000"><rect x="742" y="102" width="1" height="11"/><rect x="741" y="110" width="1" height="1"/></g>
<g fill="#dd0000"><rect x="745" y="107" width="1" height="8"/><rect x="744" y="108" width="1" height="1"/></g>
<g fill="#008000"><rect x="747" y="100" width="1" height="15"/><rect x="746" y="109" width="1" height="1"/></g>
<g fill="#008000"><rect x="750" y="95" width="1" height="10"/><rect x="749" y="102" width="1" height="1"/></g>
<g fill="#dd0000"><rect x="753" y="95" width="1" height="22"/><rect x="752" y="103" width="1" height="1"/></g>
<g fill="#008000"><rect x="755" y="97" width="1" height="15"/><rect x="754" y="109" width="1" height="1"/></g>
<g fill="#dd0000"><rect x="758" y="102" width="1" height="19"/><rect x="757" y="107" width="1" height="1"/></g>
<g fill="#dd0000"><rect x="760" y="109" width="1" height="20"/><rect x="759" y="111" width="1" height="1"/></g>
<g fill="#dd0000"><rect x="763" y="111" width="1" height="12"/><rect x="762" y="115" width="1" height="1"/></g>
<g fill="#dd0000"><rect x="765" y="112" width="1" height="18"/><rect x="764" y="118" width="1" height="1"/></g>
<g fill="#008000"><rect x="768" y="107" width="1" height="16"/><rect x="767" y="119" width="1" height="1"/></g>
<g fill="#dd0000"><rect x="771" y="107" width="1" height="12"/><rect x="770" y="109" width="1" height="1"/></g>
<g fill="#008000"><rect x="773" y="104" width="1" height="15"/><rect x="772" y="114" width="1" height="1"/></g>
<g fill="#dd0000"><rect x="776" y="104" width="1" height="19"/><rect x="775" y="108" width="1" height="1"/></g>
<g fill="#dd0000"><rect x="778" y="112" width="1" height="16"/><rect x="777" y="116" width="1" height="1"/></g>
<g fill="#008000"><rect x="781" y="111" width="1" height="16"/><rect x="780" y="121" width="1" height="1"/></g>
<g fill="#dd0000"><rect x="784" y="111" width="1" height="17"/><rect x="783" y="113" width="1" height="1"/></g>
<g fill="#008000"><rect x="786" y="107" width="1" height="17"/><rect x="785" y="118" width="1" height="1"/></g>
<g fill="#dd0000"><rect x="789" y="107" width="1" height="10"/><rect x="788" y="109" width="1" height="1"/></g>
<g fill="#dd0000"><rect x="791" y="111" width="1" height="20"/><rect x="790" y="114" width="1" height="1"/></g>
<g fill="#008000"><rect x="794" y="118" width="1" height="15"/><rect x="793" y="128" width="1" height="1"/></g>
<g fill="#008000"><rect x="796" y="114" width="1" height="14"/><rect x="795" y="125" width="1" height="1"/></g>
<g fill="#008000"><rect x="799" y="110" width="1" height="18"/><rect x="798" y="124" width="1" height="1"/></g>
<g fill="#dd0000"><rect x="802" y="114" width="1" height="19"/><rect x="801" y="117" width="1" height="1"/></g>
<g fill="#008000"><rect x="804" y="124" width="1" height="9"/><rect x="803" y="131" width="1" height="1"/></g>
<g fill="#008000"><rect x="807" y="113" width="1" height="17"/><rect x="806" y="125" width="1" height="1"/></g>
<g fill="#dd0000"><rect x="809" y="116" width="1" height="14"/><rect x="808" y="118" width="1" height="1"/></g>
<g fill="#008000"><rect x="812" y="71" width="1" height="31"/><rect x="811" y="93" width="1" height="1"/></g>
<g fill="#dd0000"><rect x="815" y="93" width="1" height="14"/><rect x="814" y="95" width="1" height="1"/></g>
<g fill="#008000"><rect x="817" y="86" width="1" height="17"/><rect x="816" y="97" width="1" height="1"/></g>
<g fill="#008000"><rect x="820" y="76" width="1" height="17"/><rect x="819" y="89" width="1" height="1"/></g>
</g>
<polyline fill="none" stroke="#8c3a72" stroke-width="2" stroke-linejoin="round" points="31,433.5 137.6,433.5 139.9,435.1 359.5,435.1 362,383.6 442.2,383.6 445,370.8 455.7,370.8 458.5,372.5 551.6,372.5 554,370.5 621.3,370.5 623.8,372.9 693.6,372.9 696.8,370.5 817.2,370.5 820.4,365.1"/>
<polyline fill="none" stroke="#b8960c" stroke-width="2" stroke-linejoin="round" points="31,501 137.6,501 139.9,501.5 359.5,501.4 362,456.8 442.2,456.8 445,445.8 455.7,445.8 458.5,448.8 551.6,448.8 554,447.9 620.7,448.1 623.8,452.8 695.8,452.8 699,460.7 816.3,460.7 820.4,458.1"/>
<rect x="360" y="350" width="15" height="185" fill="#a9b1d2" shape-rendering="crispEdges"/>
<text transform="translate(371.5,514.8) rotate(-90)" style="font-size:13px">NEW FINANCIAL YEAR</text>
<rect x="31" y="3" width="800" height="14" fill="#e6e6e6" shape-rendering="crispEdges"/>
<rect x="31" y="336" width="800" height="14" fill="#e6e6e6" shape-rendering="crispEdges"/>
<g fill="#d9d9d9" shape-rendering="crispEdges"><rect x="42" y="3" width="1" height="14"/><rect x="42" y="336" width="1" height="14"/><rect x="96" y="3" width="1" height="14"/><rect x="96" y="336" width="1" height="14"/><rect x="155" y="3" width="1" height="14"/><rect x="155" y="336" width="1" height="14"/><rect x="210" y="3" width="1" height="14"/><rect x="210" y="336" width="1" height="14"/><rect x="267" y="3" width="1" height="14"/><rect x="267" y="336" width="1" height="14"/><rect x="326" y="3" width="1" height="14"/><rect x="326" y="336" width="1" height="14"/><rect x="378" y="3" width="1" height="14"/><rect x="378" y="336" width="1" height="14"/><rect x="432" y="3" width="1" height="14"/><rect x="432" y="336" width="1" height="14"/><rect x="489" y="3" width="1" height="14"/><rect x="489" y="336" width="1" height="14"/><rect x="546" y="3" width="1" height="14"/><rect x="546" y="336" width="1" height="14"/><rect x="600" y="3" width="1" height="14"/><rect x="600" y="336" width="1" height="14"/><rect x="659" y="3" width="1" height="14"/><rect x="659" y="336" width="1" height="14"/><rect x="714" y="3" width="1" height="14"/><rect x="714" y="336" width="1" height="14"/><rect x="771" y="3" width="1" height="14"/><rect x="771" y="336" width="1" height="14"/></g>
<g shape-rendering="crispEdges">
<rect x="34" y="5" width="10" height="10" fill="#f4f4f4"/><rect x="35" y="6" width="8" height="8" fill="#000"/><rect x="36" y="7" width="6" height="6" fill="#008000"/>
<rect x="240" y="5" width="10" height="10" fill="#f4f4f4"/><rect x="241" y="6" width="8" height="8" fill="#000"/><rect x="242" y="7" width="6" height="6" fill="#99ff99"/>
<rect x="335" y="5" width="10" height="10" fill="#f4f4f4"/><rect x="336" y="6" width="8" height="8" fill="#000"/><rect x="337" y="7" width="6" height="6" fill="#0066aa"/>
<rect x="451" y="5" width="10" height="10" fill="#f4f4f4"/><rect x="452" y="6" width="8" height="8" fill="#000"/><rect x="453" y="7" width="6" height="6" fill="#80002f"/>
<rect x="573" y="5" width="10" height="10" fill="#f4f4f4"/><rect x="574" y="6" width="8" height="8" fill="#000"/><rect x="575" y="7" width="6" height="6" fill="#666699"/>
<rect x="34" y="338" width="10" height="10" fill="#f4f4f4"/><rect x="35" y="339" width="8" height="8" fill="#000"/><rect x="36" y="340" width="6" height="6" fill="#b89600"/>
<rect x="120" y="338" width="10" height="10" fill="#f4f4f4"/><rect x="121" y="339" width="8" height="8" fill="#000"/><rect x="122" y="340" width="6" height="6" fill="#8b3370"/>
</g>
<text x="47" y="14">Op:9.84, Hi:10.01, Lo:9.68, Cl:9.99</text>
<text x="253" y="14">Vol: 0.174M</text>
<text x="348" y="14">SMA (60): 9.102</text>
<text x="464" y="14">SMA (200): 7.768</text>
<text x="586" y="14">Consensus Target: 0 - 10.68</text>
<text x="47" y="347">EPS: 32.5</text>
<text x="133" y="347">EPS2: 47.5</text>
<g fill="#8c8c8c" shape-rendering="crispEdges">
<rect x="30" y="2" width="802" height="1"/>
<rect x="30" y="2" width="1" height="331"/>
<rect x="831" y="2" width="1" height="331"/>
<rect x="30" y="332" width="802" height="1"/>
<rect x="30" y="335" width="802" height="1"/>
<rect x="30" y="335" width="1" height="201"/>
<rect x="831" y="335" width="1" height="201"/>
<rect x="30" y="535" width="802" height="1"/>
</g>
<g fill="#000" shape-rendering="crispEdges">
<rect x="827" y="332" width="4" height="1"/>
<rect x="827" y="309" width="4" height="1"/>
<rect x="827" y="286" width="4" height="1"/>
<rect x="827" y="262" width="4" height="1"/>
<rect x="827" y="239" width="4" height="1"/>
<rect x="827" y="216" width="4" height="1"/>
<rect x="827" y="193" width="4" height="1"/>
<rect x="827" y="169" width="4" height="1"/>
<rect x="827" y="146" width="4" height="1"/>
<rect x="827" y="123" width="4" height="1"/>
<rect x="827" y="100" width="4" height="1"/>
<rect x="827" y="76" width="4" height="1"/>
<rect x="827" y="53" width="4" height="1"/>
<rect x="827" y="30" width="4" height="1"/>
<rect x="827" y="535" width="4" height="1"/>
<rect x="827" y="504" width="4" height="1"/>
<rect x="827" y="473" width="4" height="1"/>
<rect x="827" y="442" width="4" height="1"/>
<rect x="827" y="411" width="4" height="1"/>
<rect x="827" y="380" width="4" height="1"/>
<rect x="827" y="349" width="4" height="1"/>
<rect x="31" y="332" width="4" height="1"/>
<rect x="31" y="313" width="4" height="1"/>
<rect x="31" y="295" width="4" height="1"/>
<rect x="31" y="276" width="4" height="1"/>
<rect x="42" y="536" width="1" height="3"/>
<rect x="96" y="536" width="1" height="3"/>
<rect x="155" y="536" width="1" height="3"/>
<rect x="210" y="536" width="1" height="3"/>
<rect x="267" y="536" width="1" height="3"/>
<rect x="326" y="536" width="1" height="3"/>
<rect x="378" y="536" width="1" height="3"/>
<rect x="432" y="536" width="1" height="3"/>
<rect x="489" y="536" width="1" height="3"/>
<rect x="546" y="536" width="1" height="3"/>
<rect x="600" y="536" width="1" height="3"/>
<rect x="659" y="536" width="1" height="3"/>
<rect x="714" y="536" width="1" height="3"/>
<rect x="771" y="536" width="1" height="3"/>
</g>
<text x="834" y="336">4.5</text>
<text x="834" y="313">5.0</text>
<text x="834" y="290">5.5</text>
<text x="834" y="266">6.0</text>
<text x="834" y="243">6.5</text>
<text x="834" y="220">7.0</text>
<text x="834" y="197">7.5</text>
<text x="834" y="173">8.0</text>
<text x="834" y="150">8.5</text>
<text x="834" y="127">9.0</text>
<text x="834" y="104">9.5</text>
<text x="834" y="80">10.0</text>
<text x="834" y="57">10.5</text>
<text x="834" y="34">11.0</text>
<text x="834" y="539">20</text>
<text x="834" y="508">25</text>
<text x="834" y="477">30</text>
<text x="834" y="446">35</text>
<text x="834" y="415">40</text>
<text x="834" y="384">45</text>
<text x="834" y="353">50</text>
<text x="29" y="336" text-anchor="end">0.0M</text>
<text x="29" y="317" text-anchor="end">2.0M</text>
<text x="29" y="299" text-anchor="end">4.0M</text>
<text x="29" y="280" text-anchor="end">6.0M</text>
<text x="42.5" y="549" text-anchor="middle" font-weight="bold">Sep 24</text>
<text x="96.5" y="549" text-anchor="middle">Oct</text>
<text x="155.5" y="549" text-anchor="middle">Nov</text>
<text x="210.5" y="549" text-anchor="middle">Dec</text>
<text x="267.5" y="549" text-anchor="middle" font-weight="bold">Jan 25</text>
<text x="326.5" y="549" text-anchor="middle">Feb</text>
<text x="378.5" y="549" text-anchor="middle">Mar</text>
<text x="432.5" y="549" text-anchor="middle">Apr</text>
<text x="489.5" y="549" text-anchor="middle">May</text>
<text x="546.5" y="549" text-anchor="middle">Jun</text>
<text x="600.5" y="549" text-anchor="middle">Jul</text>
<text x="659.5" y="549" text-anchor="middle">Aug</text>
<text x="714.5" y="549" text-anchor="middle">Sep</text>
<text x="771.5" y="549" text-anchor="middle">Oct</text>
<text x="41.6" y="39" style="font-size:19px;fill:#555555">MAF</text>
<text x="692" y="39" style="font-size:19px;fill:#b40000">FNArena.com</text>
</svg>
</body></html>
